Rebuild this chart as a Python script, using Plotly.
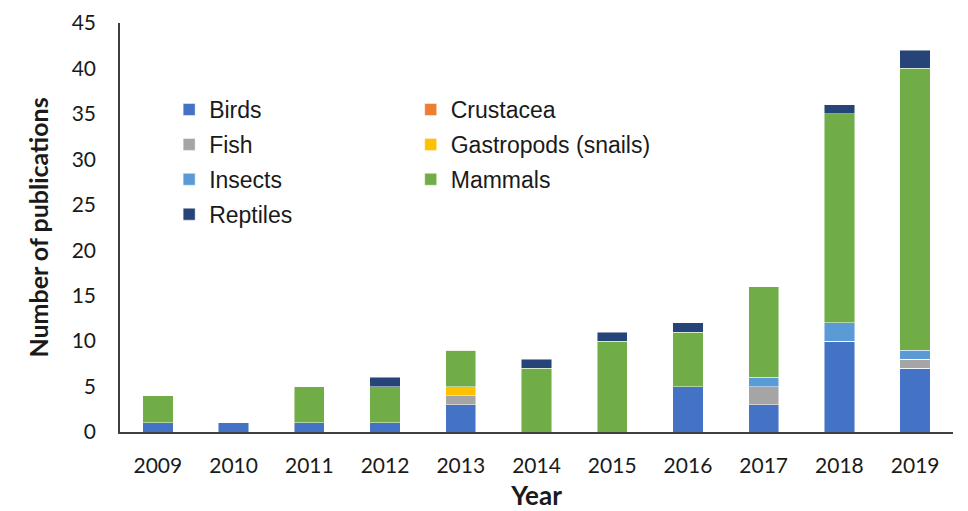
import plotly.graph_objects as go

years = ["2009", "2010", "2011", "2012", "2013", "2014", "2015", "2016", "2017", "2018", "2019"]
birds = [1, 1, 1, 1, 3, 0, 0, 5, 3, 10, 7]
crustacea = [0, 0, 0, 0, 0, 0, 0, 0, 0, 0, 0]
fish = [0, 0, 0, 0, 1, 0, 0, 0, 2, 0, 1]
gastropods = [0, 0, 0, 0, 1, 0, 0, 0, 0, 0, 0]
insects = [0, 0, 0, 0, 0, 0, 0, 0, 1, 2, 1]
mammals = [3, 0, 4, 4, 4, 7, 10, 6, 10, 23, 31]
reptiles = [0, 0, 0, 1, 0, 1, 1, 1, 0, 1, 2]

series = [
    ("Birds", birds, "#4472C4", "legend"),
    ("Crustacea", crustacea, "#ED7D31", "legend2"),
    ("Fish", fish, "#A5A5A5", "legend"),
    ("Gastropods (snails)", gastropods, "#FFC000", "legend2"),
    ("Insects", insects, "#5B9BD5", "legend"),
    ("Mammals", mammals, "#70AD47", "legend2"),
    ("Reptiles", reptiles, "#264478", "legend"),
]

fig = go.Figure()
for name, vals, color, lg in series:
    fig.add_trace(go.Bar(
        x=years, y=vals, name=name, legend=lg, legendgroup=name,
        marker=dict(color=color, line=dict(color="rgba(255,255,255,0.6)", width=0.8)),
    ))

legend_common = dict(
    orientation="v", traceorder="grouped", bgcolor="rgba(0,0,0,0)",
    font=dict(family="Liberation Sans, Arial, sans-serif", size=23, color="#1a1a1a"),
    itemwidth=30, xanchor="left", yanchor="top", tracegroupgap=2,
)

fig.update_layout(
    barmode="stack",
    bargap=0.6,
    width=968, height=511,
    margin=dict(l=120, r=15, t=23, b=79, autoexpand=False),
    paper_bgcolor="white", plot_bgcolor="white",
    font=dict(family="Lato, Open Sans, sans-serif", color="#1a1a1a"),
    legend=dict(x=0.059, y=0.841, **legend_common),
    legend2=dict(x=0.349, y=0.841, **legend_common),
    xaxis=dict(
        showline=True, linecolor="#404040", linewidth=1.5, automargin=False,
        ticks="", tickfont=dict(size=21, family="Lato, sans-serif", color="#1a1a1a"),
        ticklabelstandoff=14,
        title=dict(text="<b>Year</b>", font=dict(size=26, family="Lato, sans-serif", color="#1a1a1a"), standoff=16),
        range=[-0.5, 10.5],
    ),
    yaxis=dict(
        range=[0, 45], dtick=5, showgrid=False, zeroline=False, automargin=False,
        showline=True, linecolor="#404040", linewidth=1.5, ticks="",
        tickfont=dict(size=21, family="Lato, sans-serif", color="#1a1a1a"),
        ticklabelstandoff=18,
        title=dict(text="<b>Number of publications</b>", font=dict(size=25, family="Lato, sans-serif", color="#1a1a1a"), standoff=16),
    ),
)

fig.write_html("out.html")
